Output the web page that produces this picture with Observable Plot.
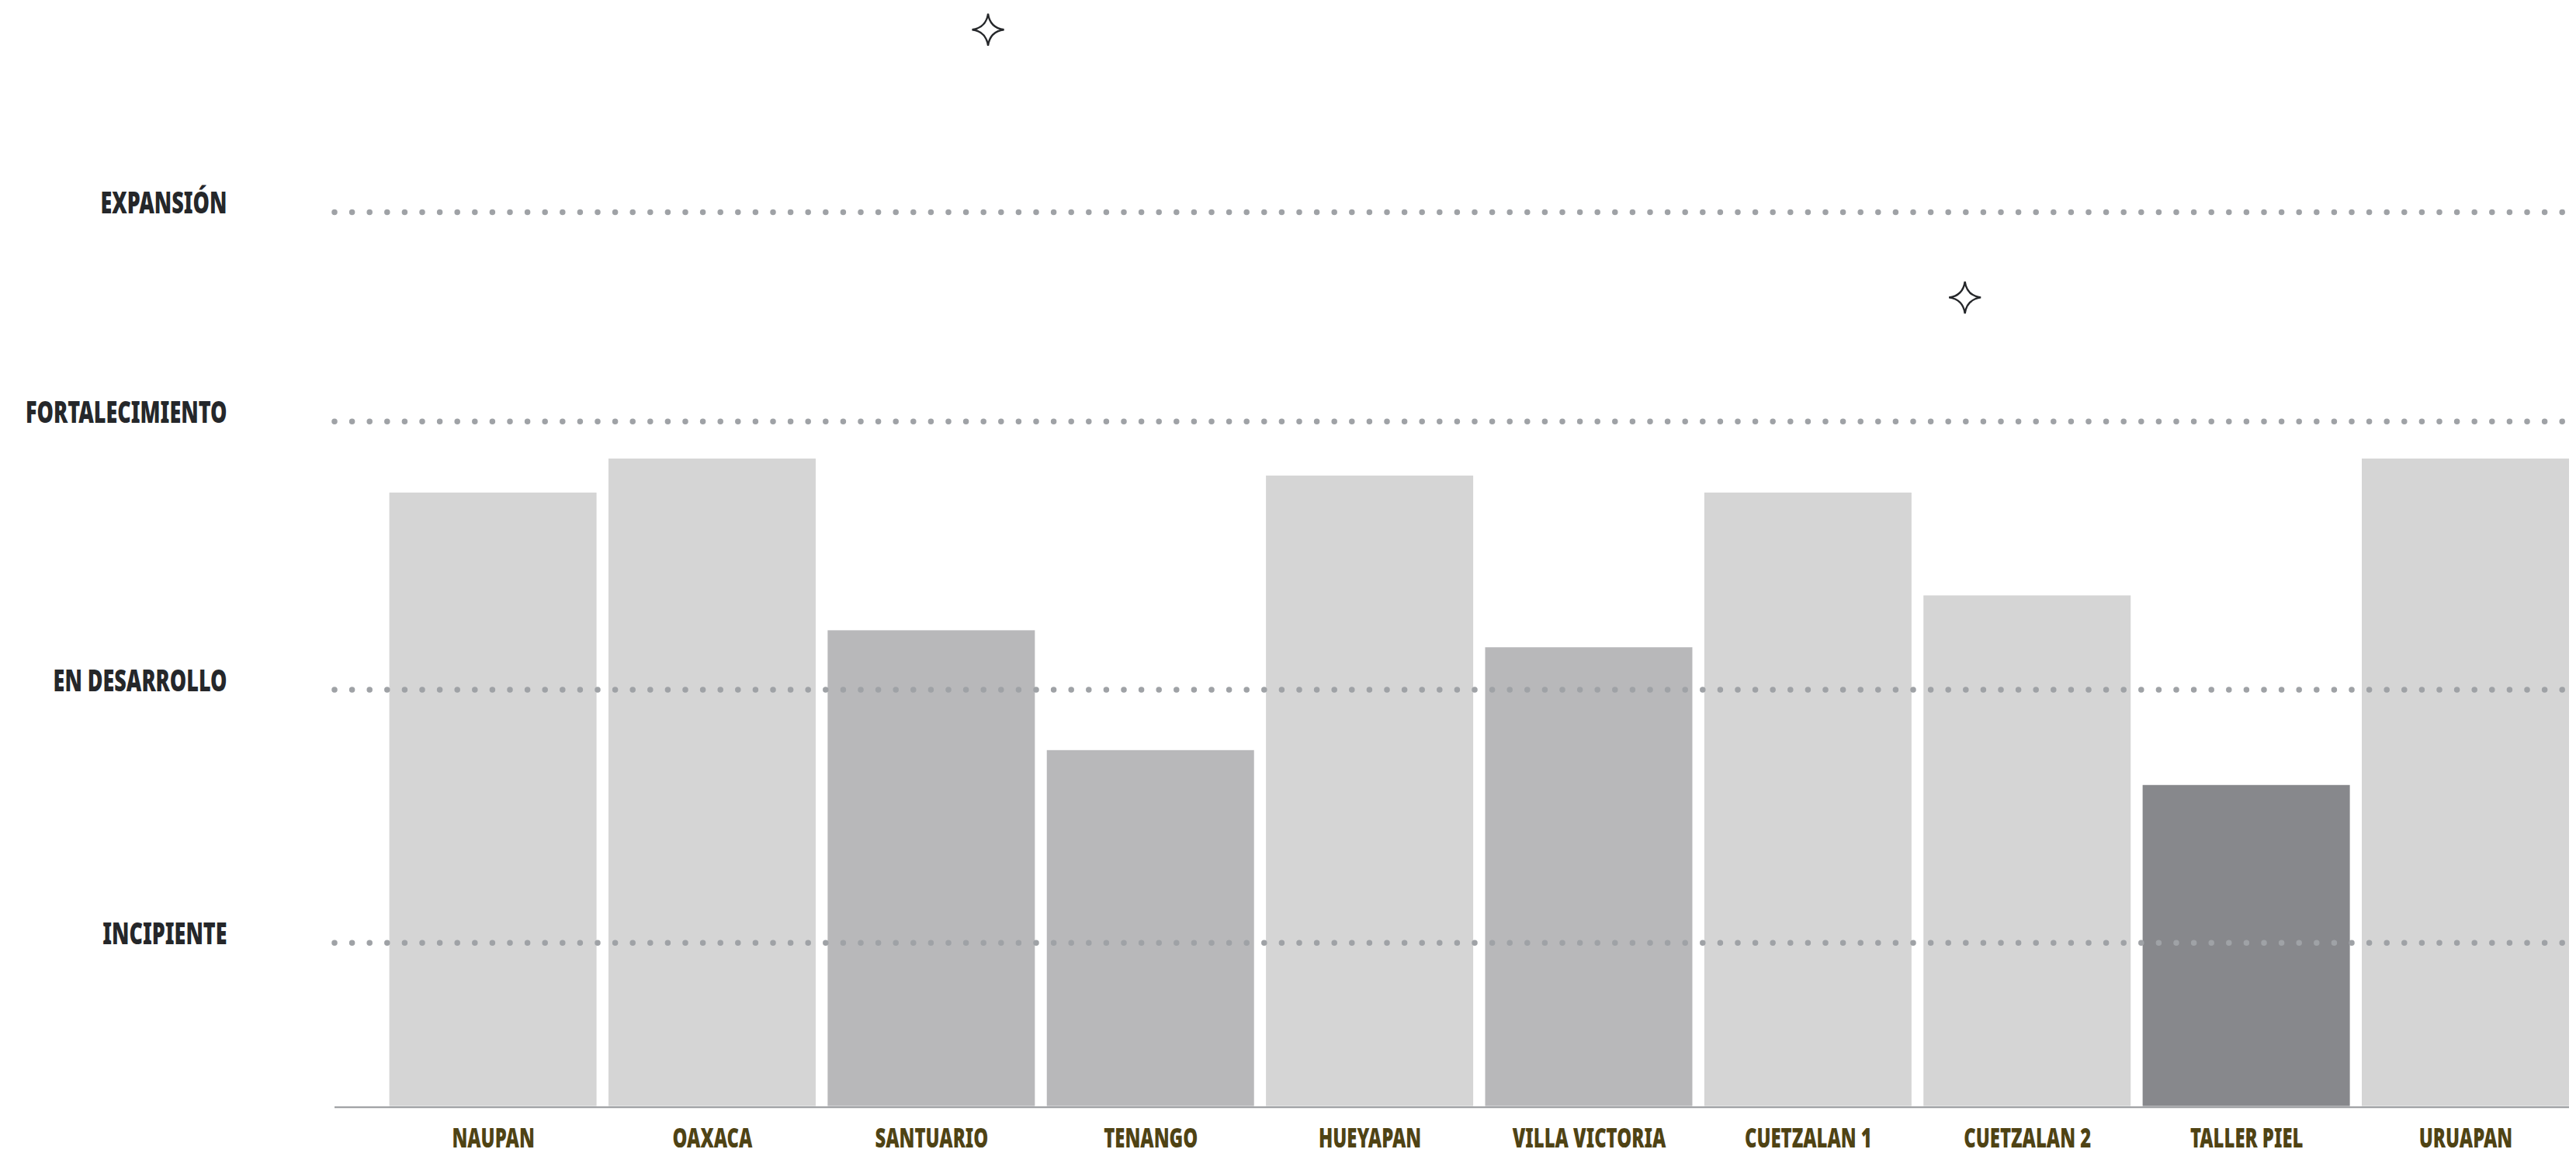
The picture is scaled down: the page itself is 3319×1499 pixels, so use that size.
<!DOCTYPE html>
<html>
<head>
<meta charset="utf-8">
<script src="https://cdn.jsdelivr.net/npm/d3@7"></script>
<script src="https://cdn.jsdelivr.net/npm/@observablehq/plot@0.6"></script>
<style>
  html, body { margin: 0; padding: 0; background: #ffffff; overflow: hidden; }
  #chart svg { display: block; }
  #chart svg text {
    font-family: "Noto Sans", sans-serif;
    font-weight: 900;
  }
</style>
</head>
<body>
<div id="chart"></div>
<script>
// Categories (workshops / communities)
const categories = ["NAUPAN", "OAXACA", "SANTUARIO", "TENANGO", "HUEYAPAN", "VILLA VICTORIA", "CUETZALAN 1", "CUETZALAN 2", "TALLER PIEL", "URUAPAN"];
// Score of each one (scale where EXPANSIÓN = 100)
const scores = [68.6, 72.4, 53.2, 39.8, 70.5, 51.3, 68.6, 57.1, 35.9, 72.4];
// Shade group of each bar
const groups = ["claro", "claro", "medio", "medio", "claro", "medio", "claro", "claro", "oscuro", "claro"];
const groupNames = ["claro", "medio", "oscuro"];
const groupColors = ["#d5d5d5", "#b8b8ba", "#87888c"];
// Level thresholds (y-axis tick labels)
const levelNames = ["INCIPIENTE", "EN DESARROLLO", "FORTALECIMIENTO", "EXPANSIÓN"];
const levelValues = [18.3, 46.6, 76.6, 100];
// Decorative stars
const starNear = ["SANTUARIO", "CUETZALAN 2"];
const starValues = [120.4, 90.45];

const data = categories.map((c, i) => ({name: c, value: scores[i], group: groups[i]}));

const star = {
  draw(context, size) {
    const r = Math.sqrt(size / Math.PI);
    const c = r * 0.12;
    context.moveTo(0, -r);
    context.quadraticCurveTo(c, -c, r, 0);
    context.quadraticCurveTo(c, c, 0, r);
    context.quadraticCurveTo(-c, c, -r, 0);
    context.quadraticCurveTo(-c, -c, 0, -r);
    context.closePath();
  }
};

const chart = Plot.plot({
  width: 3319,
  height: 1499,
  marginLeft: 431,
  marginRight: 9,
  marginTop: 0,
  marginBottom: 73.4,
  x: {type: "band", domain: categories, paddingInner: 0.0545, paddingOuter: 0.125, align: 1, round: false, label: null},
  y: {domain: [0, 123.675], label: null},
  color: {domain: groupNames, range: groupColors},
  marks: [
    Plot.barY(data, {x: "name", y: "value", fill: "group"}),
    Plot.ruleY(levelValues, {stroke: "#9fa2a6", strokeWidth: 7.5, strokeDasharray: "0 22.6", strokeLinecap: "round"}),
    Plot.ruleY([0], {stroke: "#a0a2a5", strokeWidth: 2.2, dy: 1}),
    Plot.axisY({ticks: levelValues, tickFormat: (d) => levelNames[levelValues.indexOf(d)], tickSize: 0, tickPadding: 139, fontSize: 39, fill: "#25272a", dy: -10.5, label: null}),
    Plot.axisX({tickSize: 0, tickPadding: 28, fontSize: 34.6, fill: "#4f4314", label: null}),
    Plot.dot([{near: starNear[0], v: starValues[0]}], {x: "near", y: "v", dx: 72.7, symbol: star, r: 20.5, stroke: "#25272a", strokeWidth: 2.3, fill: "none"}),
    Plot.dot([{near: starNear[1], v: starValues[1]}], {x: "near", y: "v", dx: -80.6, symbol: star, r: 20.5, stroke: "#25272a", strokeWidth: 2.3, fill: "none"})
  ]
});
document.getElementById("chart").appendChild(chart);

// Condensed lettering: squeeze each label horizontally (the original uses a condensed face)
const condense = 0.69;
chart.querySelectorAll("text").forEach((t) => {
  const w = t.getComputedTextLength();
  if (w > 0) {
    t.setAttribute("textLength", (w * condense).toFixed(1));
    t.setAttribute("lengthAdjust", "spacingAndGlyphs");
  }
});
</script>
</body>
</html>
